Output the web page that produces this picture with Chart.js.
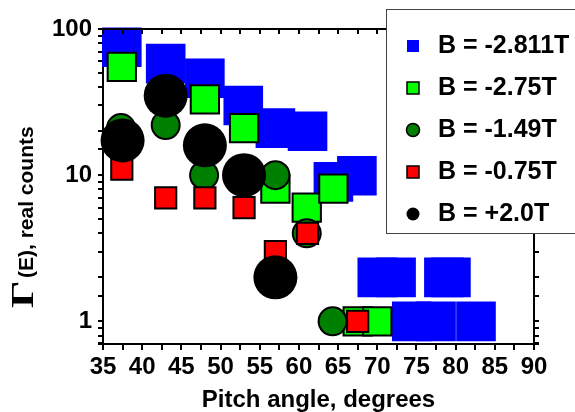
<!DOCTYPE html>
<html>
<head>
<meta charset="utf-8">
<script src="https://cdn.jsdelivr.net/npm/chart.js@4"></script>
<style>
html,body{margin:0;padding:0;background:#fff;}
#wrap{width:575px;height:412px;position:relative;}
</style>
</head>
<body>
<div id="wrap"><canvas id="c" width="575" height="412"></canvas></div>
<script>
// ---- data ----
const seriesLabels = ['B = -2.811T', 'B = -2.75T', 'B = -1.49T', 'B = -0.75T', 'B = +2.0T'];

const blueX  = [37.4, 43.0, 48.0, 52.9, 57.0, 61.1, 64.4, 67.4, 70.0, 72.4, 78.5, 79.4, 74.4, 77.5, 82.6];
const blueY  = [75, 58, 46, 30, 21, 20, 9.0, 9.9, 2, 2, 2, 2, 1, 1, 1];

const greenSqX = [37.4, 48.0, 53.0, 57.0, 61.0, 64.4, 67.5, 70.0];
const greenSqY = [55, 33, 21, 8.1, 6.0, 8.1, 1, 1];

const greenCirX = [37.3, 43.0, 47.9, 57.0, 61.0, 64.3];
const greenCirY = [21, 22, 10, 10, 4, 1];

const redX = [37.4, 43.0, 48.0, 53.0, 57.0, 61.1, 67.5];
const redY = [11, 7, 7, 6, 3, 4, 1];

const blackX = [37.5, 43.0, 48.0, 53.0, 57.0];
const blackY = [17.3, 35, 16, 10, 2];

const xTickLabels = [35, 40, 45, 50, 55, 60, 65, 70, 75, 80, 85, 90];
const yTickLabels = [1, 10, 100];
const xTitle = 'Pitch angle, degrees';
const yTitleSymbol = 'Γ';
const yTitleRest = '(E), real counts';

const pts = (xs, ys) => xs.map((x, i) => ({x: x, y: ys[i]}));

const SANS = '"Liberation Sans", Arial, sans-serif';

const datasets = [
  {label: seriesLabels[0], data: pts(blueX, blueY), pointStyle: 'rect', pointRadius: 28, backgroundColor: '#0000ff', borderColor: '#0000ff', borderWidth: 0, order: 5},
  {label: seriesLabels[1], data: pts(greenSqX, greenSqY), pointStyle: 'rect', pointRadius: 20, backgroundColor: '#00ff00', borderColor: '#000', borderWidth: 2, order: 4},
  {label: seriesLabels[2], data: pts(greenCirX, greenCirY), pointStyle: 'circle', pointRadius: 14, backgroundColor: '#008000', borderColor: '#000', borderWidth: 2, order: 3},
  {label: seriesLabels[3], data: pts(redX, redY), pointStyle: 'rect', pointRadius: 15, backgroundColor: '#ff0000', borderColor: '#000', borderWidth: 2, order: 2},
  {label: seriesLabels[4], data: pts(blackX, blackY), pointStyle: 'circle', pointRadius: 22, backgroundColor: '#000', borderColor: '#000', borderWidth: 0, order: 1}
];
datasets.forEach(d => { d.clip = false; d.pointHoverRadius = d.pointRadius; });

const isLabelY = v => yTickLabels.some(t => Math.abs(v - t) < 1e-6 * t);

const framePlugin = {
  id: 'framePlugin',
  afterDatasetsDraw(chart) {
    const {ctx, chartArea: a, scales} = chart;
    const xs = scales.x, ys = scales.y;
    ctx.save();
    ctx.strokeStyle = '#000';
    ctx.lineWidth = 2;
    ctx.beginPath();
    ctx.moveTo(a.left - 1, a.top);
    ctx.lineTo(a.right, a.top);
    ctx.lineTo(a.right, a.bottom + 1);
    ctx.stroke();
    ctx.beginPath();
    xs.ticks.forEach(t => {
      const px = Math.round(xs.getPixelForValue(t.value));
      ctx.moveTo(px, a.top);
      ctx.lineTo(px, a.top + 5);
    });
    ys.ticks.forEach(t => {
      const py = Math.round(ys.getPixelForValue(t.value));
      ctx.moveTo(a.right, py);
      ctx.lineTo(a.right + 5, py);
    });
    ctx.stroke();
    ctx.restore();
  },
  afterDraw(chart) {
    const ctx = chart.ctx;
    // y-axis title (Greek symbol in serif, rest bold sans), rotated
    ctx.save();
    ctx.translate(33, 308);
    ctx.rotate(-Math.PI / 2);
    ctx.fillStyle = '#000';
    ctx.textBaseline = 'alphabetic';
    ctx.textAlign = 'left';
    ctx.save();
    ctx.scale(1.35, 1);
    ctx.font = 'bold 32px "Liberation Serif", "Times New Roman", serif';
    ctx.fillText(yTitleSymbol, 0, 0);
    ctx.restore();
    ctx.font = 'bold 21px ' + SANS;
    ctx.fillText(yTitleRest, 30, 0);
    ctx.restore();

    // legend box
    ctx.save();
    ctx.fillStyle = '#fff';
    ctx.fillRect(386, 9, 200, 224);
    ctx.strokeStyle = '#444';
    ctx.lineWidth = 1;
    ctx.strokeRect(386.5, 9.5, 200, 224);
    chart.data.datasets.forEach((d, i) => {
      const cy = 46 + i * 42;
      const cx = 413;
      ctx.fillStyle = d.backgroundColor;
      ctx.strokeStyle = d.borderColor;
      ctx.lineWidth = 1.5;
      if (d.pointStyle === 'rect') {
        ctx.fillRect(cx - 6, cy - 6, 12, 12);
        if (d.borderWidth > 0) ctx.strokeRect(cx - 6, cy - 6, 12, 12);
      } else {
        ctx.beginPath();
        ctx.arc(cx, cy, 6.5, 0, Math.PI * 2);
        ctx.fill();
        if (d.borderWidth > 0) ctx.stroke();
      }
      ctx.fillStyle = '#000';
      ctx.font = 'bold 25px ' + SANS;
      ctx.textBaseline = 'alphabetic';
      ctx.textAlign = 'left';
      ctx.fillText(d.label, 438, cy + 6.5);
    });
    ctx.restore();
  }
};

new Chart(document.getElementById('c'), {
  type: 'scatter',
  data: {datasets: datasets},
  options: {
    responsive: false,
    animation: false,
    devicePixelRatio: 1,
    events: [],
    layout: {padding: {top: 29, right: 41, left: 0, bottom: 0}},
    plugins: {legend: {display: false}, tooltip: {enabled: false}},
    scales: {
      x: {
        type: 'linear', position: 'bottom', min: 35, max: 90,
        ticks: {
          stepSize: 2.5, autoSkip: false, maxRotation: 0, minRotation: 0, padding: 3, color: '#000',
          font: {family: SANS, size: 24, weight: 'bold'},
          callback: v => xTickLabels.includes(v) ? String(v) : ''
        },
        grid: {drawOnChartArea: false, drawTicks: true, tickLength: 6, color: '#000', lineWidth: 2},
        border: {display: true, color: '#000', width: 2},
        title: {display: true, text: xTitle, color: '#000', padding: 0,
          font: {family: SANS, size: 24, weight: 'bold', lineHeight: 1}},
        afterFit: s => { s.height = 68; }
      },
      y: {
        type: 'logarithmic', position: 'left', min: 0.708, max: 100,
        ticks: {
          autoSkip: false, padding: 6, color: '#000',
          font: {family: SANS, size: 24, weight: 'bold'},
          callback: v => isLabelY(v) ? String(Math.round(v)) : ''
        },
        grid: {drawOnChartArea: false, drawTicks: true, tickLength: 5, color: '#000', lineWidth: 2},
        border: {display: true, color: '#000', width: 2},
        title: {display: false},
        afterFit: s => { s.width = 103; }
      }
    }
  },
  plugins: [framePlugin]
});
</script>
</body>
</html>
